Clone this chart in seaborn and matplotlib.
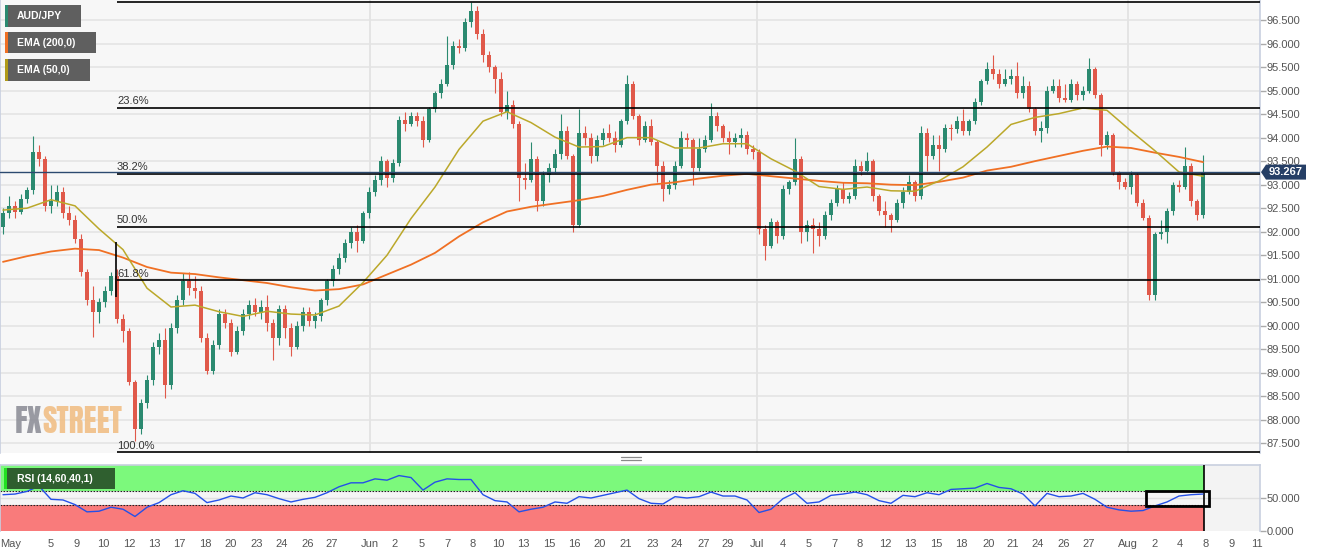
import numpy as np
import pandas as pd
import matplotlib
matplotlib.use("Agg")
import matplotlib.pyplot as plt
import seaborn as sns
from matplotlib.patches import Rectangle, Polygon
from matplotlib.lines import Line2D

# ---------------- data (4h AUD/JPY, resampled ~8h) ----------------
opens = [
92.10, 92.40, 92.55, 92.42, 92.70, 92.88, 93.70, 93.55, 92.55, 92.65,
92.85, 92.40, 92.25, 91.85, 91.15, 90.55, 90.30, 90.50, 90.75, 91.05,
90.15, 89.90, 88.80, 87.80, 88.35, 88.85, 89.55, 89.70, 88.75, 89.95,
90.55, 90.95, 90.80, 90.75, 89.75, 89.05, 89.60, 90.25, 90.05, 89.45,
89.90, 90.25, 90.45, 90.30, 90.40, 90.05, 89.75, 90.35, 89.95, 89.55,
90.00, 90.30, 90.10, 90.20, 90.55, 90.95, 91.20, 91.45, 91.75, 92.00,
91.80, 92.40, 92.85, 93.10, 93.50, 93.15, 93.45, 94.38, 94.30, 94.45,
94.35, 93.95, 94.60, 94.95, 95.15, 95.55, 95.95, 95.90, 96.45, 96.70,
96.20, 95.75, 95.50, 95.25, 94.55, 94.70, 94.30, 93.15, 93.10, 93.55,
92.65, 93.20, 93.35, 93.65, 94.15, 93.60, 92.15, 94.10, 94.00, 93.60,
93.95, 94.10, 94.00, 93.85, 94.35, 95.15, 94.45, 93.95, 94.25, 93.90,
93.40, 92.90, 93.00, 93.40, 94.00, 93.95, 93.35, 93.75, 93.95, 94.45,
94.25, 94.00, 93.90, 94.00, 94.05, 93.75, 93.70, 92.05, 91.70, 92.20,
91.90, 92.90, 93.05, 93.55, 92.00, 92.15, 92.05, 91.90, 92.35, 92.60,
92.90, 92.70, 92.75, 93.40, 93.30, 93.50, 92.75, 92.45, 92.35, 92.25,
92.60, 92.85, 93.05, 92.75, 94.10, 93.60, 93.85, 93.75, 94.20, 94.18,
94.35, 94.15, 94.35, 94.75, 95.20, 95.45, 95.35, 95.15, 95.25, 95.30,
94.95, 95.10, 94.60, 94.15, 94.20, 95.00, 95.10, 94.85, 94.80, 95.15,
94.90, 95.00, 95.45, 94.90, 93.85, 94.05, 93.25, 93.05, 92.95, 93.20,
92.60, 92.30, 90.65, 91.95, 92.00, 92.45, 93.00, 92.95, 93.40, 92.65,
92.35]

highs = [
92.50, 92.75, 92.65, 92.80, 92.95, 94.03, 93.85, 93.62, 93.00, 93.00,
92.95, 92.55, 92.35, 91.95, 91.20, 90.85, 90.60, 90.85, 91.15, 91.20,
90.25, 89.95, 88.85, 88.45, 88.95, 89.65, 89.85, 89.95, 90.05, 90.65,
91.12, 91.15, 91.05, 90.85, 89.85, 89.70, 90.35, 90.35, 90.15, 90.00,
90.35, 90.55, 90.60, 90.55, 90.65, 90.15, 90.45, 90.45, 90.05, 90.10,
90.40, 90.40, 90.30, 90.60, 91.00, 91.30, 91.55, 91.85, 92.10, 92.15,
92.45, 92.95, 93.20, 93.60, 93.55, 93.55, 94.45, 94.55, 94.55, 94.55,
94.45, 94.65, 95.00, 95.25, 96.15, 96.05, 96.10, 96.55, 96.88, 96.80,
96.30, 95.85, 95.55, 95.40, 95.00, 94.80, 94.35, 93.45, 93.90, 93.60,
93.30, 93.45, 93.75, 94.50, 94.25, 93.65, 94.60, 94.25, 94.10, 94.05,
94.20, 94.30, 94.15, 94.40, 95.33, 95.20, 94.50, 94.35, 94.40, 93.95,
93.50, 93.10, 93.50, 94.15, 94.10, 94.00, 94.00, 94.05, 94.73, 94.55,
94.30, 94.15, 94.10, 94.20, 94.15, 93.85, 93.75, 92.15, 92.30, 92.25,
93.00, 93.10, 94.00, 93.60, 92.25, 92.30, 92.20, 92.45, 92.70, 93.00,
93.05, 92.85, 93.55, 93.50, 93.70, 93.55, 92.80, 92.65, 92.40, 92.70,
92.95, 93.20, 93.10, 94.25, 94.20, 94.05, 94.05, 94.30, 94.30, 94.45,
94.60, 94.40, 94.85, 95.25, 95.60, 95.76, 95.45, 95.45, 95.45, 95.60,
95.30, 95.20, 94.65, 94.35, 95.10, 95.25, 95.25, 95.15, 95.25, 95.20,
95.10, 95.69, 95.50, 94.95, 94.15, 94.10, 93.30, 93.15, 93.30, 93.25,
92.70, 92.35, 92.00, 92.25, 92.50, 93.05, 93.10, 93.80, 93.45, 92.70,
93.63]

lows = [
91.95, 92.30, 92.30, 92.38, 92.60, 92.80, 93.40, 92.45, 92.40, 92.55,
92.30, 92.15, 91.75, 91.05, 90.45, 89.76, 90.06, 90.40, 90.65, 90.05,
89.65, 88.75, 87.55, 87.70, 88.25, 88.75, 89.40, 88.46, 88.65, 89.85,
90.45, 90.65, 90.60, 89.65, 88.98, 88.98, 89.50, 89.95, 89.35, 89.40,
89.80, 90.15, 90.20, 90.15, 89.90, 89.27, 89.60, 89.75, 89.35, 89.50,
89.90, 90.00, 89.95, 90.10, 90.45, 90.85, 91.10, 91.35, 91.65, 91.57,
91.75, 92.30, 92.75, 93.00, 92.95, 93.05, 93.40, 94.15, 94.25, 94.25,
93.80, 93.90, 94.55, 94.85, 95.10, 95.45, 95.80, 95.85, 96.35, 96.10,
95.60, 95.40, 94.95, 94.45, 94.40, 94.20, 92.65, 92.90, 93.05, 92.45,
92.55, 93.05, 93.25, 93.55, 93.55, 92.00, 92.10, 93.85, 93.45, 93.50,
93.85, 93.90, 93.70, 93.80, 94.30, 94.40, 93.85, 93.90, 93.85, 93.05,
92.65, 92.80, 92.90, 93.35, 93.80, 93.00, 93.30, 93.70, 93.90, 94.15,
93.90, 93.65, 93.80, 93.80, 93.65, 93.55, 91.95, 91.40, 91.65, 91.75,
91.85, 92.80, 93.00, 91.75, 91.80, 91.55, 91.70, 91.85, 92.25, 92.55,
92.60, 92.60, 92.70, 93.20, 93.25, 92.65, 92.35, 92.10, 92.00, 92.20,
92.50, 92.80, 92.65, 92.70, 93.30, 93.55, 93.30, 93.70, 93.95, 94.10,
94.05, 94.05, 94.30, 94.70, 95.15, 95.25, 95.05, 95.10, 95.15, 94.85,
94.85, 94.55, 94.05, 93.90, 94.10, 94.95, 94.75, 94.75, 94.75, 94.80,
94.80, 94.95, 94.85, 93.60, 93.75, 93.20, 92.90, 92.90, 92.80, 92.55,
92.25, 90.55, 90.55, 91.85, 91.75, 92.35, 92.85, 92.90, 92.55, 92.25,
92.30]

closes = [
92.40, 92.55, 92.42, 92.70, 92.88, 93.70, 93.55, 92.55, 92.65, 92.85,
92.40, 92.25, 91.85, 91.15, 90.55, 90.30, 90.50, 90.75, 91.05, 90.15,
89.90, 88.80, 87.80, 88.35, 88.85, 89.55, 89.70, 88.75, 89.95, 90.55,
90.95, 90.80, 90.75, 89.75, 89.05, 89.60, 90.25, 90.05, 89.45, 89.90,
90.25, 90.45, 90.30, 90.40, 90.05, 89.75, 90.35, 89.95, 89.55, 90.00,
90.30, 90.10, 90.20, 90.55, 90.95, 91.20, 91.45, 91.75, 92.00, 91.80,
92.40, 92.85, 93.10, 93.50, 93.15, 93.45, 94.38, 94.30, 94.45, 94.35,
93.95, 94.60, 94.95, 95.15, 95.55, 95.95, 95.90, 96.45, 96.70, 96.20,
95.75, 95.50, 95.25, 94.55, 94.70, 94.30, 93.15, 93.10, 93.55, 92.65,
93.20, 93.35, 93.65, 94.15, 93.60, 92.15, 94.10, 94.00, 93.60, 93.95,
94.10, 94.00, 93.85, 94.35, 95.15, 94.45, 93.95, 94.25, 93.90, 93.40,
92.90, 93.00, 93.40, 94.00, 93.95, 93.35, 93.75, 93.95, 94.45, 94.25,
94.00, 93.90, 94.00, 94.05, 93.75, 93.70, 92.05, 91.70, 92.20, 91.90,
92.90, 93.05, 93.55, 92.00, 92.15, 92.05, 91.90, 92.35, 92.60, 92.90,
92.70, 92.75, 93.40, 93.30, 93.50, 92.75, 92.45, 92.35, 92.25, 92.60,
92.85, 93.05, 92.75, 94.10, 93.60, 93.85, 93.75, 94.20, 94.18, 94.35,
94.15, 94.35, 94.75, 95.20, 95.45, 95.35, 95.15, 95.25, 95.30, 94.95,
95.10, 94.60, 94.15, 94.20, 95.00, 95.10, 94.85, 94.80, 95.15, 94.90,
95.00, 95.45, 94.90, 93.85, 94.05, 93.25, 93.05, 92.95, 93.20, 92.60,
92.30, 90.65, 91.95, 92.00, 92.45, 93.00, 92.95, 93.40, 92.65, 92.35,
93.267]

# EMA values read every 4th candle
ema200 = [
91.36, 91.48, 91.58, 91.64, 91.61, 91.45, 91.25, 91.13, 91.10, 91.03,
90.97, 90.91, 90.82, 90.75, 90.78, 90.88, 91.09, 91.30, 91.55, 91.90,
92.20, 92.43, 92.53, 92.60, 92.67, 92.76, 92.89, 93.00, 93.05, 93.13,
93.19, 93.23, 93.18, 93.13, 93.08, 93.04, 93.03, 93.00, 92.99, 93.06,
93.15, 93.30, 93.38, 93.50, 93.61, 93.72, 93.81, 93.78, 93.68, 93.59,
93.48]
ema50 = [
92.46, 92.50, 92.68, 92.55, 92.06, 91.62, 90.80, 90.40, 90.44, 90.30,
90.20, 90.31, 90.25, 90.23, 90.42, 90.92, 91.50, 92.28, 92.95, 93.75,
94.35, 94.55, 94.32, 94.01, 93.80, 93.81, 94.00, 94.00, 93.78, 93.78,
93.87, 93.87, 93.55, 93.29, 92.96, 92.90, 92.95, 92.87, 92.86, 93.08,
93.38, 93.80, 94.28, 94.43, 94.51, 94.63, 94.58, 94.14, 93.72, 93.27,
93.18]

# RSI(14) read every 2nd candle
rsi = [
55, 56, 60, 68, 48, 47, 40, 29, 30, 36,
33, 22, 36, 43, 55, 61, 57, 43, 47, 53,
50, 58, 55, 49, 44, 48, 51, 58, 67, 73,
73, 79, 77, 84, 81, 62, 74, 79, 78, 78,
55, 46, 44, 29, 33, 36, 44, 42, 52, 50,
54, 58, 62, 49, 42, 41, 52, 50, 52, 59,
53, 53, 47, 28, 33, 49, 58, 42, 44, 54,
56, 59, 55, 46, 42, 54, 52, 58, 55, 63,
64, 65, 72, 66, 64, 56, 38, 57, 52, 53,
57, 48, 36, 32, 30, 31, 38, 44, 53, 55,
56]

tick_labels = ["May", "5", "9", "10", "12", "13", "17", "18", "20", "23", "24", "26", "27",
               "Jun", "2", "5", "7", "8", "10", "13", "15", "16", "20", "21", "23", "24", "27", "29",
               "Jul", "4", "5", "7", "8", "12", "13", "15", "18", "20", "21", "24", "26", "27",
               "Aug", "2", "4", "8", "9", "11"]
tick_index = [1.2, 8.0, 12.3, 16.7, 21.0, 25.3, 29.3, 33.7, 38.0, 42.2, 46.5, 50.7, 54.8,
              61.2, 65.3, 69.7, 74.0, 78.2, 82.5, 86.7, 91.0, 95.3, 99.5, 103.8, 108.2, 112.3, 116.7, 120.8,
              125.7, 130.0, 134.2, 138.5, 142.8, 147.0, 151.3, 155.5, 159.8, 164.2, 168.3, 172.5, 176.8, 181.0,
              187.5, 192.0, 196.2, 200.5, 204.7, 209.0]
month_labels = ["Jun", "Jul", "Aug"]

fib_ratios = [0.0, 0.236, 0.382, 0.5, 0.618, 1.0]
fib_high, fib_low = 96.88, 87.31
fib_start = 19.0
fib_anchor = (90.61, 91.78)
last_price = 93.267
rsi_box = (190.5, 201.0, 38.0, 60.6)

# ---------------- style ----------------
GREEN = "#2b8a70"
RED = "#e0594a"
C200 = "#f07024"
C50 = "#bba82a"

sns.set_style("white")
plt.rcParams['font.family'] = ['Liberation Sans', 'DejaVu Sans']

W, H = 1331, 558
fig = plt.figure(figsize=(W / 100, H / 100), dpi=100)
fig.patch.set_facecolor("white")


def fx(px):
    return px / W


def fy(py):
    return 1 - py / H


ax = fig.add_axes([0, fy(453), 1260 / W, 453 / H])
ax_r = fig.add_axes([0, fy(531), 1260 / W, 66 / H])

XMIN, XMAX = -0.5, 209.5
YMIN, YMAX = 87.297, 96.925

# ---------------- main price panel ----------------
ax.set_facecolor("#f7f7f7")
ax.set_xlim(XMIN, XMAX)
ax.set_ylim(YMIN, YMAX)
yt = np.arange(87.5, 96.51, 0.5)
for v in yt:
    ax.axhline(v, color="#e3e3e3", lw=1.1, zorder=0)
for lab, pos in zip(tick_labels, tick_index):
    if lab in month_labels:
        ax.axvline(pos, color="#e3e3e3", lw=1.3, zorder=0)
        ax_r.axvline(pos, color="#dcdcdc", lw=1.0, zorder=0.5, alpha=0.6)

# watermark (drawn inside the price panel, under the candles)
wm_fam = ["Anton", "Oswald", "IBM Plex Sans Condensed", "Liberation Sans"]
wm = ax.text(15 / 1260, 1 - 433 / 453, "FX", transform=ax.transAxes, fontsize=22.5, fontweight="bold",
             color="#8f9099", family=wm_fam, va="baseline", ha="left", alpha=0.9, zorder=1)
ax.annotate("STREET", xy=(1, 0), xycoords=wm, fontsize=22.5, fontweight="bold", color="#f1bf86",
            family=wm_fam, va="bottom", ha="left", alpha=0.9, zorder=1, annotation_clip=False)

n = len(closes)
idx = np.arange(n)
candles = pd.DataFrame({"idx": idx, "open": opens, "high": highs, "low": lows, "close": closes})
up = candles["close"] >= candles["open"]
colors = np.where(up, GREEN, RED)
bottoms = np.minimum(candles["open"], candles["close"])
heights = np.maximum(np.abs(candles["close"] - candles["open"]), 0.02)
ax.vlines(candles["idx"], candles["low"], candles["high"], colors=colors, lw=0.8, zorder=3)
ax.bar(candles["idx"], heights, bottom=bottoms, width=0.62, color=colors, lw=0, zorder=4)

ema_df = pd.DataFrame({"idx": np.arange(0, n, 4), "ema200": ema200, "ema50": ema50})
sns.lineplot(data=ema_df, x="idx", y="ema200", ax=ax, color=C200, lw=1.3, legend=False, zorder=5)
sns.lineplot(data=ema_df, x="idx", y="ema50", ax=ax, color=C50, lw=1.1, legend=False, zorder=5)

# Fibonacci retracement
for r in fib_ratios:
    lvl = fib_high - r * (fib_high - fib_low)
    ax.hlines(lvl, fib_start, XMAX, color="black", lw=1.2, zorder=6)
    ax.text(fib_start, lvl + 0.04, f"{r * 100:.1f}%", fontsize=8, color="#333333",
            ha="left", va="bottom", zorder=6, clip_on=True)
ax.vlines(fib_start - 0.1, fib_anchor[0], fib_anchor[1], color="black", lw=1.2, zorder=6)

# last price line
ax.axhline(last_price, color="#2c4a70", lw=1.0, zorder=6)

ax.set_xticks([])
ax.yaxis.tick_right()
ax.set_yticks(yt)
ax.set_yticklabels([f"{v:.3f}" for v in yt])
ax.tick_params(axis="y", right=True, left=False, length=4, width=1, color="#aaaaaa",
               labelcolor="#555555", labelsize=8, pad=1)
ax.set_xlabel("")
ax.set_ylabel("")
for s in ["top", "bottom"]:
    ax.spines[s].set_visible(False)
for s in ["left", "right"]:
    ax.spines[s].set_color("#c8cfdf")
    ax.spines[s].set_linewidth(1.2)

# legend boxes
legend_items = [("AUD/JPY", GREEN, 5, 81, 5, 27), ("EMA (200,0)", C200, 5, 96, 32, 53),
                ("EMA (50,0)", "#b09a18", 5, 90, 59, 81)]
for text, c, x0, x1, y0, y1 in legend_items:
    fig.patches.append(Rectangle((fx(x0), fy(y1)), (x1 - x0) / W, (y1 - y0) / H,
                                 transform=fig.transFigure, facecolor="#5f5f5f", edgecolor="none", zorder=10))
    fig.patches.append(Rectangle((fx(x0), fy(y1)), 3 / W, (y1 - y0) / H,
                                 transform=fig.transFigure, facecolor=c, edgecolor="none", zorder=11))
    fig.text(fx(17), fy((y0 + y1) / 2), text, color="white", fontsize=7.5, fontweight="bold",
             va="center", ha="left", zorder=12)

# ---------------- RSI panel ----------------
ax_r.set_facecolor("#f3f3f3")
ax_r.set_xlim(XMIN, XMAX)
ax_r.set_ylim(0, 100)
end = 200.1
ax_r.fill_between([XMIN, end], 60, 100, color="#7cf97c", lw=0, zorder=1)
ax_r.fill_between([XMIN, end], 0, 40, color="#f97b7b", lw=0, zorder=1)
ax_r.fill_between([XMIN, end], 40, 60, color="#f5f5f5", lw=0, zorder=1)
ax_r.axhline(50, color="#e0e0e0", lw=1.0, zorder=1.5)
ax_r.hlines([60, 40], XMIN, end, color="#222222", lw=0.8, linestyles=(0, (1.5, 1.2)), zorder=2)
ax_r.vlines(end, 0, 100, color="black", lw=1.2, zorder=3)
rsi_df = pd.DataFrame({"idx": np.arange(0, n, 2), "rsi": rsi})
sns.lineplot(data=rsi_df, x="idx", y="rsi", ax=ax_r, color="#2450e8", lw=1.0, legend=False, zorder=4)
ax_r.add_patch(Rectangle((rsi_box[0], rsi_box[2]), rsi_box[1] - rsi_box[0], rsi_box[3] - rsi_box[2],
                         fill=False, edgecolor="black", lw=2.0, zorder=5))
ax_r.yaxis.tick_right()
ax_r.set_yticks([0, 50])
ax_r.set_yticklabels(["0.000", "50.000"])
ax_r.tick_params(axis="y", right=True, left=False, length=4, width=1, color="#aaaaaa",
                 labelcolor="#555555", labelsize=8, pad=1)
ax_r.set_xticks(tick_index)
ax_r.set_xticklabels(tick_labels)
ax_r.tick_params(axis="x", length=0, labelsize=8, labelcolor="#555555", pad=6)
ax_r.set_xlabel("")
ax_r.set_ylabel("")
ax_r.spines["bottom"].set_visible(False)
for s in ["left", "right", "top"]:
    ax_r.spines[s].set_color("#c8cfdf")
    ax_r.spines[s].set_linewidth(1.2)

# RSI label
fig.patches.append(Rectangle((fx(4), fy(489)), 111 / W, 21 / H, transform=fig.transFigure,
                             facecolor="#2f5f2f", edgecolor="none", zorder=10))
fig.patches.append(Rectangle((fx(4), fy(489)), 3 / W, 21 / H, transform=fig.transFigure,
                             facecolor="#22e022", edgecolor="none", zorder=11))
fig.text(fx(17), fy(478.5), "RSI (14,60,40,1)", color="white", fontsize=7.5, fontweight="bold",
         va="center", ha="left", zorder=12)

# panel separator handle
for yy in (456.5, 459.5):
    fig.lines.append(Line2D([fx(621), fx(641)], [fy(yy), fy(yy)], transform=fig.transFigure,
                            color="#8a8a8a", lw=0.9))

# last price badge
yp = YMAX - last_price
ypix = yp / (YMAX - YMIN) * 453
poly = [(fx(1261), fy(ypix)), (fx(1266), fy(ypix - 7.5)), (fx(1306), fy(ypix - 7.5)),
        (fx(1306), fy(ypix + 7.5)), (fx(1266), fy(ypix + 7.5))]
fig.patches.append(Polygon(poly, closed=True, transform=fig.transFigure, facecolor="#263f66",
                           edgecolor="none", zorder=10))
fig.text(fx(1286), fy(ypix), f"{last_price:.3f}", color="white", fontsize=8, fontweight="bold",
         ha="center", va="center", zorder=11)

fig.savefig("out.png", dpi=100, facecolor="white")
